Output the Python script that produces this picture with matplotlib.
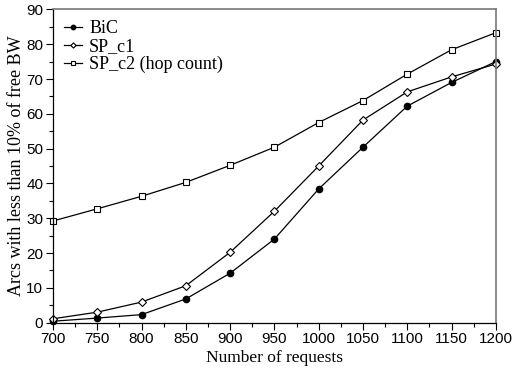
import numpy as np
import matplotlib
matplotlib.use("Agg")
import matplotlib.pyplot as plt
from matplotlib.ticker import MultipleLocator

requests = [700, 750, 800, 850, 900, 950, 1000, 1050, 1100, 1150, 1200]
bic = [0.4, 1.3, 2.3, 6.8, 14.2, 24.0, 38.4, 50.4, 62.2, 69.0, 75.0]
sp_c1 = [1.1, 3.0, 5.9, 10.6, 20.2, 32.0, 45.0, 58.2, 66.3, 70.6, 74.3]
sp_c2 = [29.2, 32.7, 36.3, 40.3, 45.2, 50.4, 57.5, 63.8, 71.4, 78.4, 83.3]

serif = "Liberation Serif"
sans = "Liberation Sans"

fig = plt.figure(figsize=(5.17, 3.76), dpi=100)
ax = fig.add_axes([0.1025, 0.142, 0.8565, 0.833])

ax.plot(requests, bic, "k-", lw=0.9, marker="o", ms=4.5, mfc="black",
        mec="black", label="BiC", clip_on=False)
ax.plot(requests, sp_c1, "k-", lw=0.9, marker="D", ms=3.8, mfc="white",
        mec="black", mew=0.8, label="SP_c1", clip_on=False)
ax.plot(requests, sp_c2, "k-", lw=0.9, marker="s", ms=4.5, mfc="white",
        mec="black", mew=0.8, label="SP_c2 (hop count)", clip_on=False)

ax.set_xlim(700, 1200)
ax.set_ylim(0, 90)
ax.xaxis.set_major_locator(MultipleLocator(50))
ax.xaxis.set_minor_locator(MultipleLocator(25))
ax.yaxis.set_major_locator(MultipleLocator(10))
ax.yaxis.set_minor_locator(MultipleLocator(5))
ax.tick_params(which="major", direction="out", length=5, width=0.8,
               labelsize=11, pad=2)
ax.tick_params(which="minor", direction="out", length=3, width=0.8)
for lbl in ax.get_xticklabels() + ax.get_yticklabels():
    lbl.set_fontfamily(sans)

for s in ["top", "right"]:
    ax.spines[s].set_color("#777777")
    ax.spines[s].set_linewidth(1.2)
for s in ["left", "bottom"]:
    ax.spines[s].set_linewidth(0.9)

ax.set_xlabel("Number of requests", fontfamily=serif, fontsize=12.5, labelpad=3)
ax.set_ylabel("Arcs with less than 10% of free BW", fontfamily=serif,
              fontsize=13, labelpad=1)

ax.legend(loc="upper left", frameon=False, prop={"family": serif, "size": 13},
          handlelength=1.0, handletextpad=0.4, labelspacing=0.05,
          borderaxespad=0.3, borderpad=0.3, markerscale=0.7)

fig.savefig("out.png", dpi=100)
